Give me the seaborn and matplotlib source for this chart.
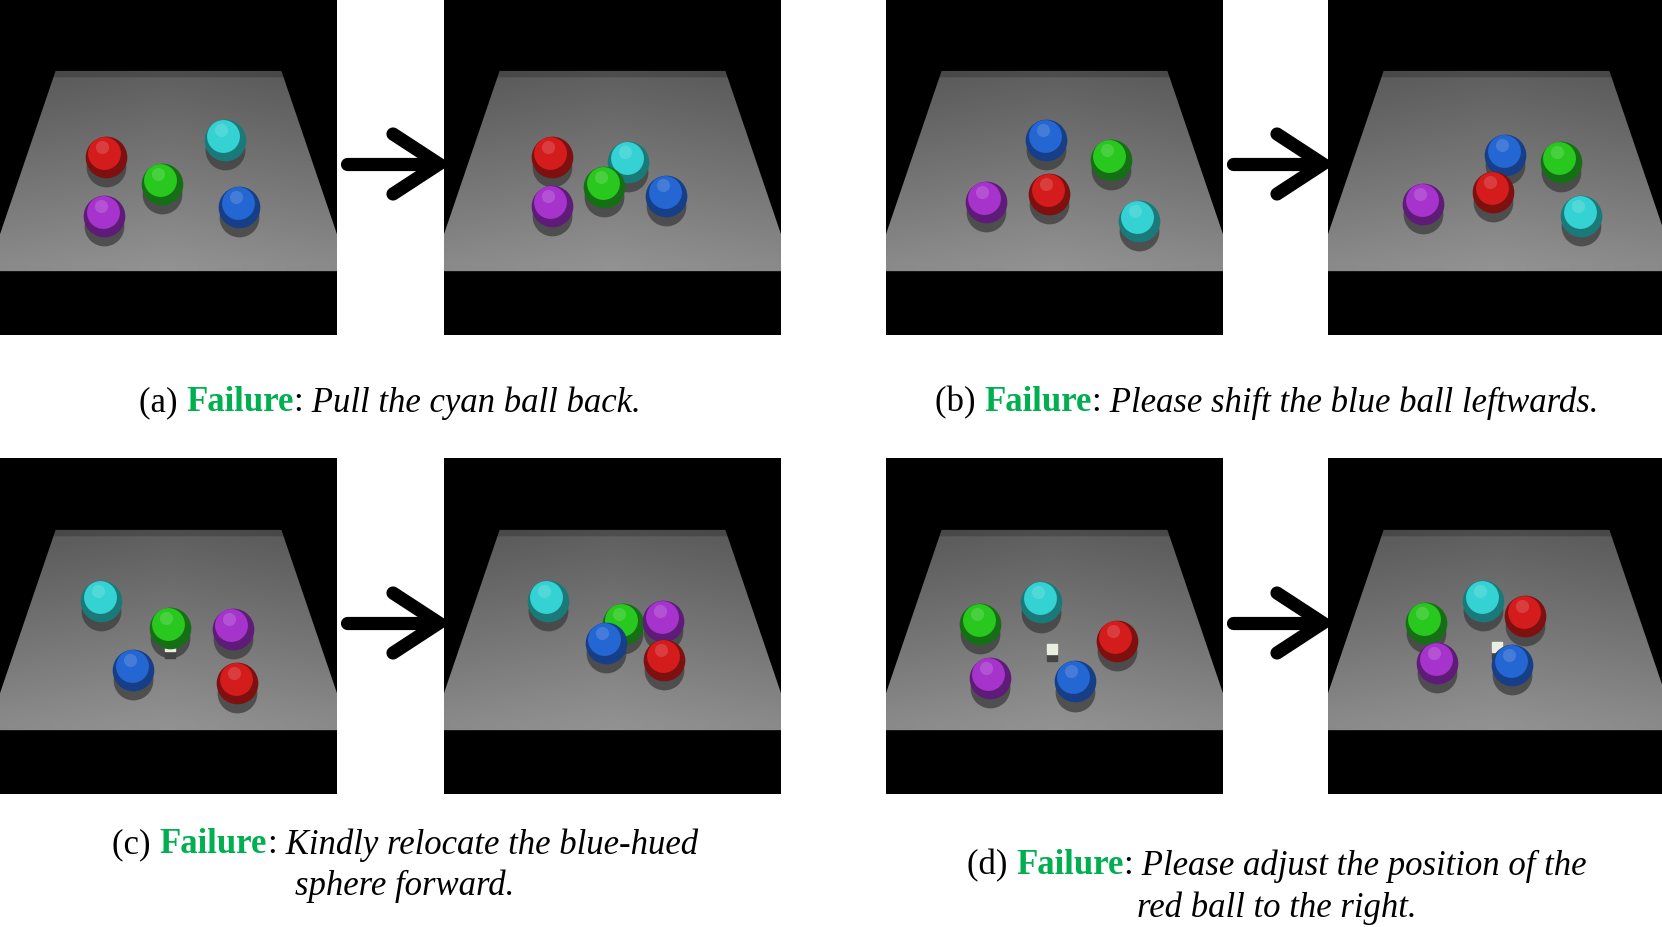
import numpy as np
import pandas as pd
import matplotlib
matplotlib.use("Agg")
import matplotlib.pyplot as plt
from matplotlib.patches import Polygon, Rectangle
from matplotlib.transforms import IdentityTransform
import seaborn as sns

# ball positions per scene, as fractions of the image (x right, y down)
a_before_names = ["red", "green", "cyan", "purple", "blue"]
a_before_x = [0.314, 0.480, 0.667, 0.310, 0.710]
a_before_y = [0.470, 0.550, 0.420, 0.645, 0.620]

a_after_names = ["red", "purple", "cyan", "green", "blue"]
a_after_x = [0.320, 0.320, 0.547, 0.475, 0.660]
a_after_y = [0.470, 0.615, 0.485, 0.560, 0.585]

b_before_names = ["blue", "green", "purple", "red", "cyan"]
b_before_x = [0.475, 0.667, 0.296, 0.484, 0.750]
b_before_y = [0.420, 0.480, 0.605, 0.580, 0.660]

b_after_names = ["blue", "green", "purple", "red", "cyan"]
b_after_x = [0.525, 0.690, 0.283, 0.490, 0.752]
b_after_y = [0.465, 0.485, 0.610, 0.575, 0.645]

c_before_names = ["cyan", "green", "purple", "blue", "red"]
c_before_x = [0.300, 0.503, 0.690, 0.396, 0.704]
c_before_y = [0.425, 0.505, 0.510, 0.630, 0.670]

c_after_names = ["cyan", "green", "purple", "blue", "red"]
c_after_x = [0.308, 0.530, 0.650, 0.480, 0.654]
c_after_y = [0.425, 0.495, 0.485, 0.550, 0.600]

d_before_names = ["cyan", "green", "red", "purple", "blue"]
d_before_x = [0.460, 0.280, 0.685, 0.308, 0.560]
d_before_y = [0.430, 0.495, 0.545, 0.655, 0.665]

d_after_names = ["cyan", "green", "red", "purple", "blue"]
d_after_x = [0.460, 0.290, 0.585, 0.324, 0.547]
d_after_y = [0.425, 0.490, 0.470, 0.610, 0.615]

# small white cube in some scenes (x, y), None if hidden
cube_pos = [None, None, None, None, (0.503, 0.560), None, (0.494, 0.568), (0.500, 0.563)]

caption_labels = ["(a)", "(b)", "(c)", "(d)"]
caption_status = ["Failure", "Failure", "Failure", "Failure"]
caption_first_lines = ["Pull the cyan ball back.", "Please shift the blue ball leftwards.",
                       "Kindly relocate the blue-hued", "Please adjust the position of the"]
caption_second_lines = [None, None, "sphere forward.", "red ball to the right."]

ball_palette = {"red": "#d41c1c", "green": "#28c81e", "cyan": "#34d2d2",
                "purple": "#a634cc", "blue": "#2466d2"}
ball_dark = {"red": "#7e1010", "green": "#157015", "cyan": "#1a7a7a",
             "purple": "#5e1c78", "blue": "#173f88"}

scenes = [
    (a_before_names, a_before_x, a_before_y), (a_after_names, a_after_x, a_after_y),
    (b_before_names, b_before_x, b_before_y), (b_after_names, b_after_x, b_after_y),
    (c_before_names, c_before_x, c_before_y), (c_after_names, c_after_x, c_after_y),
    (d_before_names, d_before_x, d_before_y), (d_after_names, d_after_x, d_after_y),
]

W, H = 1662, 928
fig = plt.figure(figsize=(W / 100, H / 100), dpi=100)
fig.patch.set_facecolor("white")

col_x = [0, 444, 886, 1328]
row_y = [0, 459]
pw, ph = 337, 336

# floor gradient image
gy, gx = np.mgrid[0:1:300j, 0:1:300j]
shade = 0.37 + 0.20 * np.clip((gy - 0.21) / 0.58, 0, 1) - 0.06 * np.abs(gx - 0.5)
shade[(gy > 0.214) & (gy < 0.232)] -= 0.07
floor_img = np.dstack([shade, shade, shade])
floor_poly = [(0.165, 0.214), (0.835, 0.214), (1.0, 0.70), (1.0, 0.81), (0.0, 0.81), (0.0, 0.70)]


def draw_scene(ax, names, xs, ys, cube):
    ax.add_patch(Rectangle((0, 0), 1, 1, facecolor="black", edgecolor="none", zorder=0))
    im = ax.imshow(floor_img, extent=(0, 1, 1, 0), aspect="auto", zorder=1)
    poly = Polygon(floor_poly, closed=True, transform=ax.transData, facecolor="none", edgecolor="none")
    ax.add_patch(poly)
    im.set_clip_path(poly)
    df = pd.DataFrame({"x": xs, "y": ys, "ball": names})
    shadow = df.assign(y=df["y"] + 0.03)
    sns.scatterplot(data=shadow, x="x", y="y", color="#3c3c3c", s=820, alpha=0.75,
                    linewidth=0, legend=False, ax=ax, zorder=2)
    if cube is not None:
        ax.scatter([cube[0]], [cube[1] + 0.02], marker="s", s=60, color="#444444", zorder=2)
        ax.scatter([cube[0]], [cube[1]], marker="s", s=55, color="#e8efe0", zorder=2)
    for i, row in df.iterrows():
        sns.scatterplot(x=[row["x"]], y=[row["y"]], color=ball_dark[row["ball"]], s=900,
                        linewidth=0, legend=False, ax=ax, zorder=3 + i)
        sns.scatterplot(x=[row["x"] - 0.004], y=[row["y"] - 0.012], color=ball_palette[row["ball"]],
                        s=560, linewidth=0, legend=False, ax=ax, zorder=3 + i)
        sns.scatterplot(x=[row["x"] - 0.01], y=[row["y"] - 0.03], color="white", alpha=0.15,
                        s=90, linewidth=0, legend=False, ax=ax, zorder=3 + i)
    ax.set_xlim(0, 1)
    ax.set_ylim(1, 0)
    ax.set_axis_off()


for k, (names, xs, ys) in enumerate(scenes):
    r, c = divmod(k, 4)
    x0, y0 = col_x[c], row_y[r]
    ax = fig.add_axes([x0 / W, 1 - (y0 + ph) / H, pw / W, ph / H])
    draw_scene(ax, names, xs, ys, cube_pos[k])

# arrows drawn on an overlay in pixel coordinates (y down)
over = fig.add_axes([0, 0, 1, 1], zorder=20)
over.set_xlim(0, W)
over.set_ylim(H, 0)
over.set_axis_off()
for r in range(2):
    for left_col in (0, 2):
        x_start = col_x[left_col] + pw + 10
        x_tip = col_x[left_col + 1] - 5
        yc = row_y[r] + 165
        over.plot([x_start, x_tip - 6], [yc, yc], color="black", lw=9.5, solid_capstyle="round")
        over.plot([x_tip - 46, x_tip, x_tip - 46], [yc - 30, yc, yc + 30], color="black",
                  lw=9.5, solid_capstyle="round", solid_joinstyle="miter")

# captions
serif = "Liberation Serif"
fs = 25
green = "#00b050"
plain = dict(family=serif, size=fs, color="black")
bold_green = dict(family=serif, size=fs, color=green, weight="bold")
italic = dict(family=serif, size=fs, color="black", style="italic")

renderer = fig.canvas.get_renderer()


def text_width(s, st):
    t1 = fig.text(0, 0, "X" + s + "X", transform=IdentityTransform(), **st)
    t2 = fig.text(0, 0, "XX", transform=IdentityTransform(), **st)
    w = t1.get_window_extent(renderer).width - t2.get_window_extent(renderer).width
    t1.remove()
    t2.remove()
    return w


def mixed_line(parts, cx, cy):
    widths = [text_width(s, st) for s, st in parts]
    x = cx - sum(widths) / 2
    for (s, st), w in zip(parts, widths):
        fig.text(x, H - cy, s, transform=IdentityTransform(), ha="left", va="center", **st)
        x += w


caption_cx = [390, 1267, 405, 1277]
caption_cy = [[403, None], [403, None], [845, 886], [866, 908]]
for i in range(4):
    parts = [(caption_labels[i] + " ", plain), (caption_status[i], bold_green), (":", plain),
             (" " + caption_first_lines[i], italic)]
    mixed_line(parts, caption_cx[i], caption_cy[i][0])
    if caption_second_lines[i]:
        mixed_line([(caption_second_lines[i], italic)], caption_cx[i], caption_cy[i][1])

fig.savefig("out.png", dpi=100, facecolor="white")
